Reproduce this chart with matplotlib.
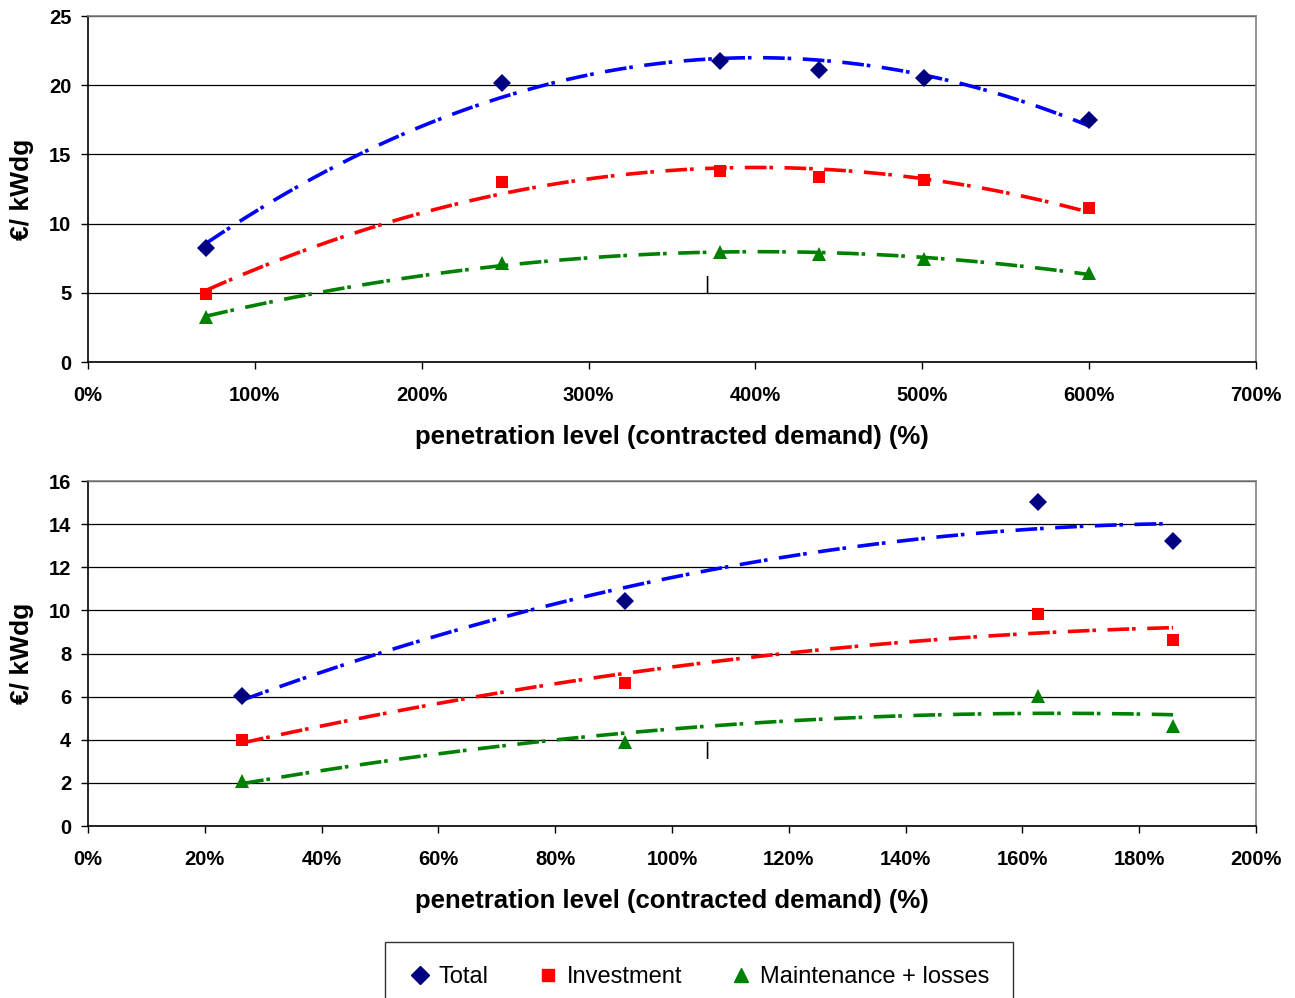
import numpy as np
import matplotlib
matplotlib.use("Agg")
import matplotlib.pyplot as plt
from matplotlib.ticker import FuncFormatter, MultipleLocator

# --- data -------------------------------------------------------------
# upper panel: penetration level (%) and cost (EUR / kWdg)
top_x = [71, 248, 379, 438, 501, 600]
top_total = [8.24, 20.16, 21.75, 21.1, 20.5, 17.5]
top_invest = [4.91, 13.0, 13.8, 13.37, 13.15, 11.13]
top_maint = [3.25, 7.15, 7.95, 7.8, 7.44, 6.43]

# lower panel
bot_x = [26.4, 92.0, 162.7, 185.8]
bot_total = [6.03, 10.43, 15.03, 13.22]
bot_invest = [3.99, 6.63, 9.83, 8.63]
bot_maint = [2.09, 3.9, 6.03, 4.64]

series_names = ["Total", "Investment", "Maintenance + losses"]
marker_colors = ["#000080", "#FF0000", "#008000"]
line_colors = ["#0000FF", "#FF0000", "#008000"]
markers = ["D", "s", "^"]
marker_sizes = [9, 9, 10]

plt.rcParams["font.family"] = ["Liberation Sans", "DejaVu Sans"]

fig = plt.figure(figsize=(12.95, 9.98), dpi=100)

W, H = 1295.0, 998.0
ax_top = fig.add_axes([88 / W, 1 - 362 / H, 1168 / W, 346 / H])
ax_bot = fig.add_axes([88 / W, 1 - 826 / H, 1168 / W, 345 / H])

# long dash - dot pattern for the trend lines
dash_style = (0, (6, 0.8, 1.0, 3.2))


def draw_panel(ax, xs, ys_list, xmax, xstep, ymax, ystep, cursor_xy):
    for ys, mc, lc, m, ms in zip(ys_list, marker_colors, line_colors, markers, marker_sizes):
        # second-order polynomial trend line over the data range
        coef = np.polyfit(xs, ys, 2)
        xx = np.linspace(min(xs), max(xs), 200)
        ax.plot(xx, np.polyval(coef, xx), color=lc, lw=2.6, linestyle=dash_style,
                zorder=3)
        ax.plot(xs, ys, linestyle="none", marker=m, color=mc, markersize=ms,
                markeredgewidth=0, zorder=4)
    ax.set_xlim(0, xmax)
    ax.set_ylim(0, ymax)
    ax.xaxis.set_major_locator(MultipleLocator(xstep))
    ax.yaxis.set_major_locator(MultipleLocator(ystep))
    ax.xaxis.set_major_formatter(FuncFormatter(lambda v, p: f"{v:.0f}%"))
    ax.yaxis.set_major_formatter(FuncFormatter(lambda v, p: f"{v:.0f}"))
    ax.grid(axis="y", color="black", lw=0.9, zorder=1)
    ax.set_axisbelow(True)
    for side in ("left", "bottom"):
        ax.spines[side].set_color("black")
        ax.spines[side].set_linewidth(1.2)
    for side in ("top", "right"):
        ax.spines[side].set_color("#808080")
        ax.spines[side].set_linewidth(1.2)
    ax.tick_params(axis="both", direction="out", length=5, width=1.0,
                   labelsize=14.5)
    ax.tick_params(axis="x", pad=12)
    ax.tick_params(axis="y", pad=7)
    for lab in ax.get_xticklabels() + ax.get_yticklabels():
        lab.set_fontweight("bold")
    ax.set_xlabel("penetration level (contracted demand) (%)", fontsize=18.5,
                  fontweight="bold", labelpad=15)
    ax.set_ylabel("€/ kWdg", fontsize=19, fontweight="bold")
    ax.yaxis.set_label_coords(-0.046, 0.5)
    ax.text(cursor_xy[0], cursor_xy[1], "|", fontsize=14, ha="center",
            va="center", color="black")


draw_panel(ax_top, top_x, [top_total, top_invest, top_maint], 700, 100, 25, 5,
           (371, 5.6))
draw_panel(ax_bot, bot_x, [bot_total, bot_invest, bot_maint], 200, 20, 16, 2,
           (106, 3.5))

# legend along the bottom edge
handles = [plt.Line2D([], [], linestyle="none", marker=m, color=c, markersize=s)
           for m, c, s in zip(markers, marker_colors, [9, 9, 10])]
leg = fig.legend(handles, series_names, loc="center",
                 bbox_to_anchor=(699 / W, 1 - 977 / H), ncol=3, fontsize=17,
                 frameon=True, fancybox=False, edgecolor="black",
                 borderpad=1.0, columnspacing=2.0, handletextpad=0.3,
                 handlelength=1.0)
leg.get_frame().set_linewidth(1.0)

fig.savefig("out.png", dpi=100)
